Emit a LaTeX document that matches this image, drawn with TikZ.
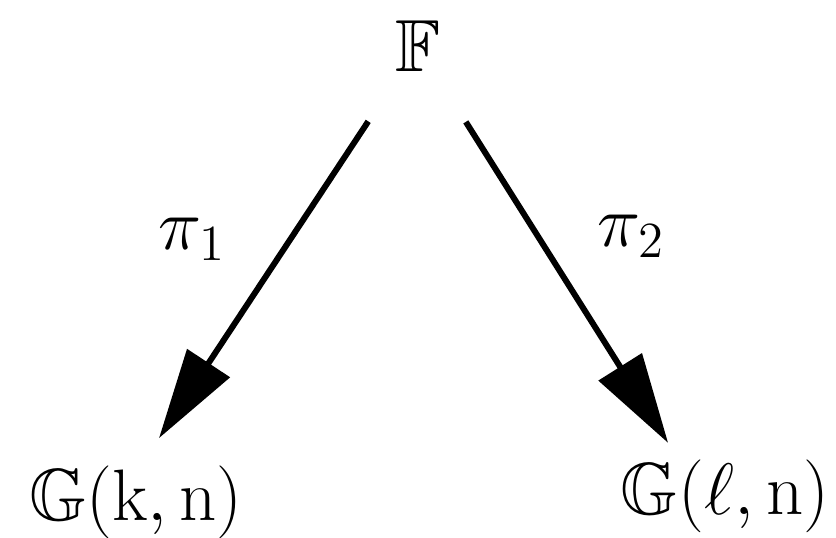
\documentclass[tikz,border=0pt]{standalone}
\usepackage{amsmath, amssymb}
\usepackage{tikz}
\usetikzlibrary{arrows.meta}

\begin{document}
\begin{tikzpicture}[font=\fontsize{21}{25}\selectfont,
        proj/.style={-{Triangle[length=9mm,width=5mm]}, line width=1.7pt}]
            \useasboundingbox (0,0) rectangle (8.36,5.38);
            \node (flag) at (4.18,4.92) {$\mathbb{F}$};
            \node (grk) at (1.36,0.36) {$\mathbb{G}(\mathrm{k},\mathrm{n})$};
            \node (grl) at (7.25,0.42) {$\mathbb{G}(\ell,\mathrm{n})$};
            \draw[proj, shorten <=0.45cm, shorten >=0.18cm] (flag) -- (grk.75)
                node[pos=0.42, left=0.5cm] {$\pi_1$};
            \draw[proj, shorten <=0.45cm, shorten >=0.05cm] (flag) -- (grl.138)
                node[pos=0.42, right=0.45cm] {$\pi_2$};
        \end{tikzpicture}
\end{document}
